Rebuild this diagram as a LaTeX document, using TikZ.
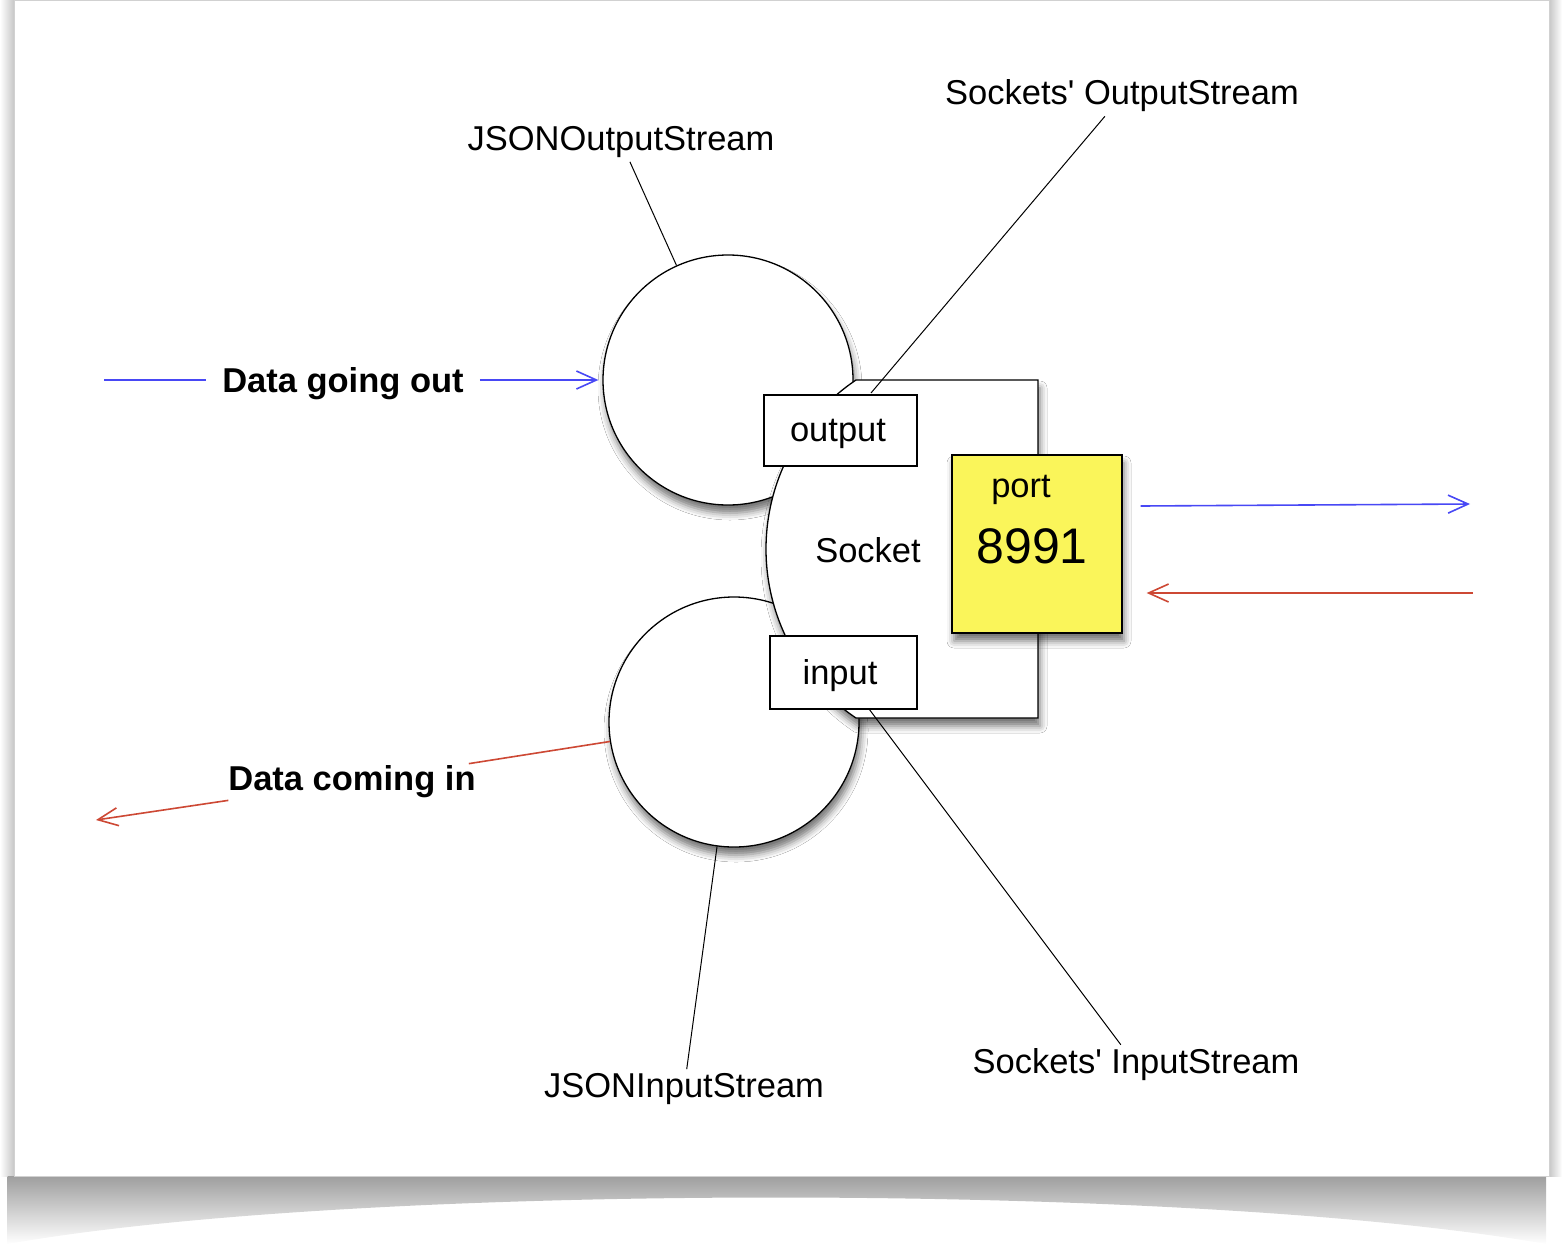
\documentclass[tikz,border=0pt]{standalone}
\usepackage{fontspec}
\setmainfont{Liberation Sans}
\newfontfamily\rawsans{Liberation Sans}
\usetikzlibrary{arrows.meta,shadows.blur,fadings}
\definecolor{flowblue}{RGB}{72,72,245}
\definecolor{flowred}{RGB}{205,72,52}
\definecolor{portyellow}{RGB}{250,245,90}
\tikzfading[name=pagefade, top color=transparent!0, middle color=transparent!10, bottom color=transparent!100]
\begin{document}
\begin{tikzpicture}[x=1pt,y=-1pt,
  lbl/.style={font=\fontsize{34.5}{40}\selectfont, inner sep=4pt},
  rawlbl/.style={font=\rawsans\fontsize{34.5}{40}\selectfont, inner sep=4pt},
  boldlbl/.style={font=\fontsize{34.5}{40}\selectfont\bfseries},
  softshadow/.style={blur shadow={shadow xshift=2pt, shadow yshift=-8pt, shadow blur radius=7pt, shadow opacity=55}},
  stream/.style={circle, draw=black, line width=1.3pt, fill=white, minimum size=250pt, inner sep=0pt, softshadow},
  boxed/.style={draw=black, line width=1.3pt, fill=white, inner sep=0pt},
  leader/.style={draw=black, line width=1pt},
  bluearrow/.style={draw=flowblue, line width=1.6pt},
  redarrow/.style={draw=flowred, line width=1.6pt},
  tip/.style={-{Straight Barb[length=20pt,width=18pt,line width=1.6pt]}}
]
\useasboundingbox (0,0) rectangle (1562,1250);
% page and its shadow
\shade[left color=white, right color=black!22] (0,0) rectangle (14,1176);
\shade[left color=black!22, right color=white] (1549,0) rectangle (1562,1176);
\shade[left color=black!38, middle color=black!62, right color=black!38, path fading=pagefade]
  (10,1176) -- (1553,1176) -- (1553,1244) .. controls (1200,1182) and (360,1182) .. (10,1244) -- cycle;
\fill[white] (14,0) rectangle (1549,1176);
\draw[black!18, line width=1pt] (14,0) rectangle (1549,1176);

% streams
\node[stream] (jout) at (728,380) {};
\node[stream] (jin) at (734,722) {};

% socket body
\path[draw=black, line width=1.3pt, fill=white, softshadow]
  (1038,380) -- (856,380)
  .. controls (799.6,417.9) and (766,481.1) .. (766,549)
  .. controls (766,616.9) and (799.6,680.1) .. (856,718)
  -- (1038,718) -- cycle;
\node[lbl] (socklbl) at (868,550) {Socket};

\node[boxed, minimum width=153pt, minimum height=71pt] (outbox) at (840.5,430.5) {};
\node[lbl] at (838,434) {output};
\node[boxed, minimum width=147pt, minimum height=73pt] (inbox) at (843.5,672.5) {};
\node[lbl] at (840,676) {input};

\node[boxed, fill=portyellow, minimum width=170pt, minimum height=178pt, softshadow] (port) at (1037,544) {};
\node[lbl] (portlbl) at (1021,490) {port};
\node[font=\fontsize{50}{58}\selectfont] (portnum) at (1032,546) {8991};

% labels
\node[lbl] (joutlbl) at (621,142) {JSONOutputStream};
\node[rawlbl] (soutlbl) at (1122,96) {Sockets' OutputStream};
\node[lbl] (jinlbl) at (684,1089) {JSONInputStream};
\node[rawlbl] (sinlbl) at (1136,1065) {Sockets' InputStream};
\coordinate (sockout) at (871,393);
\coordinate (sockin) at (869,709);

\draw[leader] (joutlbl) -- (jout);
\draw[leader] (soutlbl) -- (sockout);
\draw[leader] (jinlbl) -- (jin);
\draw[leader] (sinlbl) -- (sockin);

% data flows
\coordinate (goL) at (104,380);
\node[boldlbl, inner xsep=16pt, inner ysep=4pt] (golbl) at (343,384) {Data going out};
\draw[bluearrow] (goL) -- (golbl.west |- goL);
\draw[bluearrow, tip, shorten >=4pt] (golbl.east |- goL) -- (jout);

\coordinate (ciL) at (96,820);
\node[boldlbl, inner xsep=6pt, inner ysep=2pt] (cilbl) at (352,782) {Data coming in};
\draw[redarrow] (jin) -- (cilbl);
\draw[redarrow, tip] (cilbl) -- (ciL);

\coordinate (netout) at (1470,504);
\coordinate (netin) at (1473,593);
\draw[bluearrow, tip] ([xshift=18pt,yshift=38pt]port.east) -- (netout);
\draw[redarrow, tip] (netin) -- ([xshift=24pt,yshift=-49pt]port.east);
\end{tikzpicture}
\end{document}
